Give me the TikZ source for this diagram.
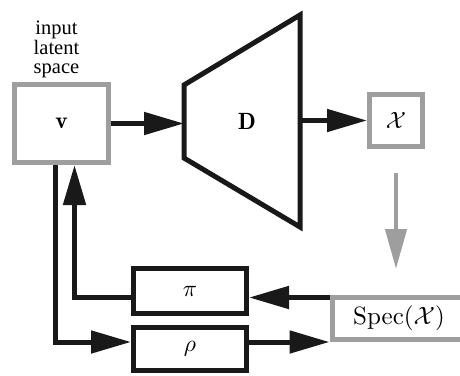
\documentclass[tikz,border=0pt]{standalone}
\usepackage{fontspec}
\newfontfamily\labelfont{Liberation Serif}
\usetikzlibrary{arrows.meta,calc}
\definecolor{boxgray}{rgb}{0.62,0.62,0.62}
\definecolor{ink}{rgb}{0.1,0.1,0.1}
\newcommand{\mybig}[2][2.35]{\scalebox{#1}{#2}}
\begin{document}
\begin{tikzpicture}[x=1pt,y=-1pt,
  arr/.style={line width=5pt, draw=ink, -{Triangle[length=40pt,width=22pt]}},
  grayarr/.style={line width=4.5pt, draw=boxgray, -{Triangle[length=40pt,width=21pt]}},
  graybox/.style={draw=boxgray, line width=5pt, fill=white, inner sep=0pt},
  blackbox/.style={draw=ink, line width=5pt, fill=white, inner sep=0pt}
]
\clip (0,0) rectangle (460,375);
% input box and label
\node[graybox, minimum width=94pt, minimum height=78pt] (v) at (61.5,123.5) {\mybig{$\mathbf{v}$}};
\node[font=\labelfont\fontsize{20.5}{19.5}\selectfont, align=center, inner sep=0pt, anchor=north] (lbl) at (56.5,21) {input\\latent\\space};
% decoder trapezoid
\coordinate (dtl) at (184,85);
\coordinate (dtr) at (300,15);
\coordinate (dbr) at (300,227);
\coordinate (dbl) at (184,158);
\draw[ink, line width=5pt, line join=miter] (dtl) -- (dtr) -- (dbr) -- (dbl) -- cycle;
\node (D) at (247,121) {\mybig{$\mathbf{D}$}};
% output box
\node[graybox, minimum width=53pt, minimum height=52pt] (X) at (396,120.5) {\mybig{$\mathcal{X}$}};
% spectrum box
\node[graybox, minimum width=134pt, minimum height=42pt, anchor=west] (spec) at (329.5,318.5) {\mybig[2.5]{Spec$(\mathcal{X})$}};
% pi and rho boxes
\node[blackbox, minimum width=113pt, minimum height=45pt] (pi) at (190,291) {\mybig{$\pi$}};
\node[blackbox, minimum width=113pt, minimum height=43pt] (rho) at (190,349) {\mybig{$\rho$}};
% helper coordinates
\coordinate (stop) at ([yshift=-2.5pt]spec.north west);
\coordinate (rx) at (55,0);
\coordinate (ux) at (74.5,0);
\coordinate (gs) at (396,173);
\coordinate (ge) at (396,269);
% connectors
\draw[arr] (v.east) -- (v.east -| dtl);
\draw[arr] (X.west -| dtr) -- (X.west);
\draw[grayarr] (gs) -- (ge);
\draw[arr] (stop) -- (pi.east |- stop);
\draw[arr] (pi.west |- stop) -| (ux |- v.south);
\draw[arr] (rx |- v.south) |- (rho.west |- spec.south west);
\draw[arr] (rho.east |- spec.south west) -- (spec.south west);
\end{tikzpicture}
\end{document}
